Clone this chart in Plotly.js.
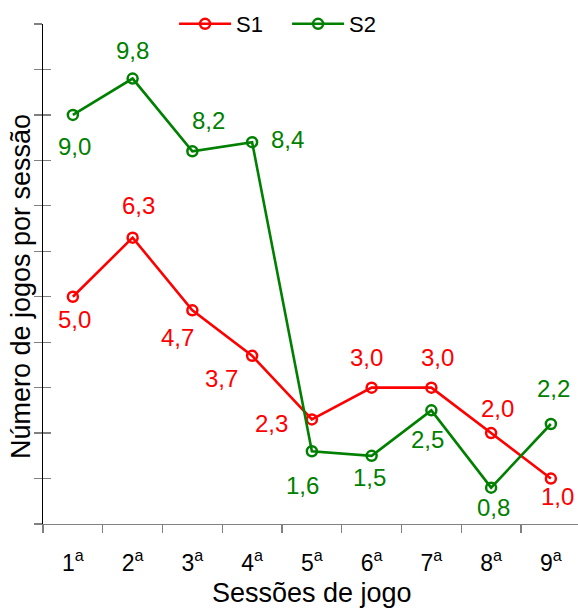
<!DOCTYPE html>
<html>
<head>
<meta charset="utf-8">
<script src="https://cdn.plot.ly/plotly-3.0.1.min.js"></script>
<style>
  html, body { margin: 0; padding: 0; background: #fff; }
  #chart { width: 578px; height: 608px; }
</style>
</head>
<body>
<div id="chart"></div>
<script>
// Session numbers (drawn as ordinal labels 1ª … 9ª)
const sessions = ['1', '2', '3', '4', '5', '6', '7', '8', '9'];
// Average number of games per session for each group
const s1 = [5.0, 6.3, 4.7, 3.7, 2.3, 3.0, 3.0, 2.0, 1.0];
const s2 = [9.0, 9.8, 8.2, 8.4, 1.6, 1.5, 2.5, 0.8, 2.2];
const seriesNames = ['S1', 'S2'];

// Label offsets in pixels (x, y) relative to each point, keeping labels off the lines
const s1Offsets = [[2, -23], [6, 32], [-15, -27], [-31, -23], [-40, -4], [-5, 30], [6, 30], [6, 25], [7, -18]];
const s2Offsets = [[2, -32], [0, 28], [16, 31], [35, 3], [-9, -34], [-2, -22], [-4, -29], [2, -20], [3, 36]];

const RED = '#ff0000';
const GREEN = '#008000';
const FONT = 'Liberation Sans, Arial, sans-serif';

const cats = sessions.map(s => s + '<sup>a</sup>');

function lineTrace(name, values, color) {
  return {
    type: 'scatter',
    mode: 'lines+markers',
    name: name,
    x: cats,
    y: values,
    line: { color: color, width: 2.6 },
    marker: { symbol: 'circle-open', size: 10, color: color, line: { width: 2.5, color: color } },
    hoverinfo: 'x+y'
  };
}

function valueLabels(values, offsets, color) {
  return values.map((v, i) => ({
    x: cats[i],
    y: v,
    xref: 'x',
    yref: 'y',
    text: v.toFixed(1).replace('.', ','),
    showarrow: false,
    xanchor: 'center',
    yanchor: 'middle',
    xshift: offsets[i][0],
    yshift: offsets[i][1],
    font: { family: FONT, size: 24, color: color }
  }));
}

const data = [
  lineTrace(seriesNames[0], s1, RED),
  lineTrace(seriesNames[1], s2, GREEN),
  // empty trace so the outer tick axis is drawn
  { type: 'scatter', x: [], y: [], yaxis: 'y2', showlegend: false, hoverinfo: 'skip' }
];

const layout = {
  width: 578,
  height: 608,
  margin: { l: 43, r: 0, t: 24, b: 84 },
  paper_bgcolor: '#ffffff',
  plot_bgcolor: '#ffffff',
  font: { family: FONT, size: 22, color: '#000' },
  showlegend: true,
  legend: {
    orientation: 'h',
    x: 0.245,
    xanchor: 'left',
    y: 1,
    yanchor: 'middle',
    bgcolor: 'rgba(0,0,0,0)',
    font: { family: FONT, size: 22, color: '#000' },
    itemwidth: 52,
    entrywidth: 46,
    entrywidthmode: 'pixels'
  },
  xaxis: {
    type: 'category',
    categoryarray: cats,
    range: [-0.5, 8.454],
    tickson: 'boundaries',
    ticks: 'outside',
    ticklen: 8,
    tickwidth: 1.3,
    tickcolor: '#808080',
    ticklabelstandoff: 18,
    showline: true,
    linecolor: '#808080',
    linewidth: 1.3,
    showgrid: false,
    zeroline: false,
    tickfont: { family: FONT, size: 23, color: '#000' },
    fixedrange: true
  },
  yaxis: {
    range: [0, 11],
    dtick: 1,
    tick0: 0,
    ticks: 'inside',
    ticklen: 8,
    tickwidth: 1.3,
    tickcolor: '#808080',
    showticklabels: false,
    showline: true,
    linecolor: '#000',
    linewidth: 1.3,
    showgrid: false,
    zeroline: false,
    fixedrange: true
  },
  yaxis2: {
    overlaying: 'y',
    side: 'left',
    range: [0, 11],
    dtick: 1,
    tick0: 0,
    ticks: 'outside',
    ticklen: 8,
    tickwidth: 1.3,
    tickcolor: '#808080',
    showticklabels: false,
    showline: false,
    showgrid: false,
    zeroline: false,
    fixedrange: true
  },
  annotations: [
    ...valueLabels(s1, s1Offsets, RED),
    ...valueLabels(s2, s2Offsets, GREEN),
    {
      text: 'Sessões de jogo',
      xref: 'paper', yref: 'paper',
      x: 0.503, y: -0.137,
      xanchor: 'center', yanchor: 'middle',
      showarrow: false,
      font: { family: FONT, size: 27, color: '#000' }
    },
    {
      text: 'Número de jogos por sessão',
      xref: 'paper', yref: 'paper',
      x: -0.041, y: 0.474,
      xanchor: 'center', yanchor: 'middle',
      textangle: -90,
      showarrow: false,
      font: { family: FONT, size: 27, color: '#000' }
    }
  ]
};

Plotly.newPlot('chart', data, layout, { displayModeBar: false, staticPlot: true });
</script>
</body>
</html>
